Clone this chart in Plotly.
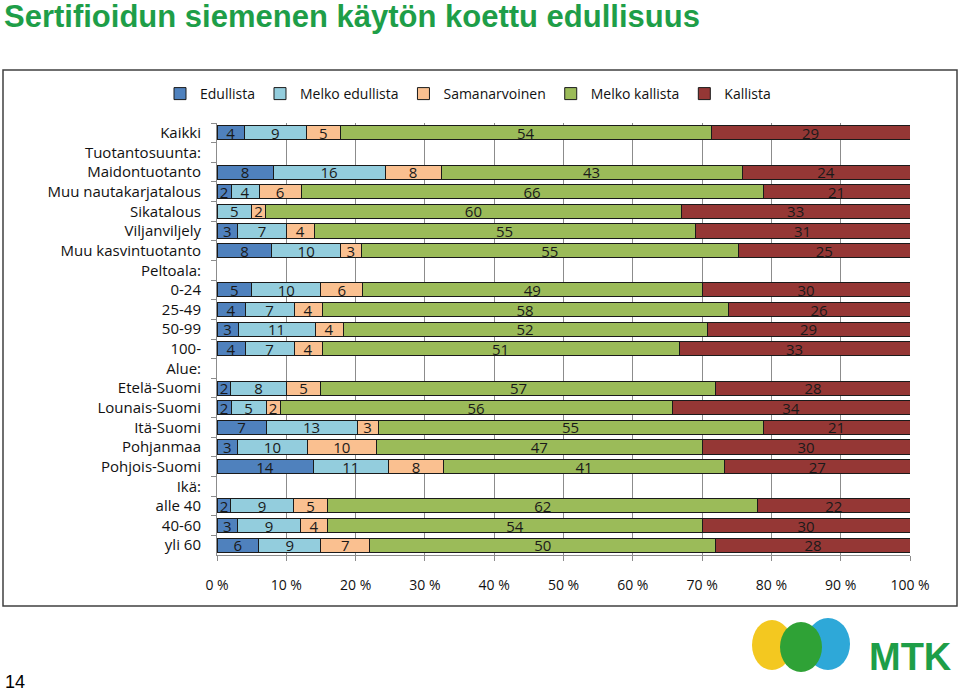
import plotly.graph_objects as go

categories = ["Kaikki", "Tuotantosuunta:", "Maidontuotanto", "Muu nautakarjatalous", "Sikatalous",
              "Viljanviljely", "Muu kasvintuotanto", "Peltoala:", "0-24", "25-49", "50-99", "100-",
              "Alue:", "Etelä-Suomi", "Lounais-Suomi", "Itä-Suomi", "Pohjanmaa", "Pohjois-Suomi",
              "Ikä:", "alle 40", "40-60", "yli 60"]

edullista       = [4, None, 8, 2, None, 3, 8, None, 5, 4, 3, 4, None, 2, 2, 7, 3, 14, None, 2, 3, 6]
melko_edullista = [9, None, 16, 4, 5, 7, 10, None, 10, 7, 11, 7, None, 8, 5, 13, 10, 11, None, 9, 9, 9]
samanarvoinen   = [5, None, 8, 6, 2, 4, 3, None, 6, 4, 4, 4, None, 5, 2, 3, 10, 8, None, 5, 4, 7]
melko_kallista  = [54, None, 43, 66, 60, 55, 55, None, 49, 58, 52, 51, None, 57, 56, 55, 47, 41, None, 62, 54, 50]
kallista        = [29, None, 24, 21, 33, 31, 25, None, 30, 26, 29, 33, None, 28, 34, 21, 30, 27, None, 22, 30, 28]

series_names = ["Edullista", "Melko edullista", "Samanarvoinen", "Melko kallista", "Kallista"]
series_values = [edullista, melko_edullista, samanarvoinen, melko_kallista, kallista]
colors = ["#4F81BD", "#93CDDD", "#FAC090", "#9BBB59", "#953735"]

tick_vals = [0, 10, 20, 30, 40, 50, 60, 70, 80, 90, 100]
tick_text = ["0 %", "10 %", "20 %", "30 %", "40 %", "50 %", "60 %", "70 %", "80 %", "90 %", "100 %"]

FONT = "'Open Sans', Lato, Arial, sans-serif"

W, H = 960, 692
PL, PR, PT, PB = 217, 910, 123, 555   # plot area in px


def px_x(x):
    return (x - PL) / (PR - PL)


def px_y(y):
    return (PB - y) / (PB - PT)


fig = go.Figure()
for name, vals, col in zip(series_names, series_values, colors):
    fig.add_trace(go.Bar(
        y=categories, x=vals, name=name, orientation="h",
        marker=dict(color=col, line=dict(color="#1a1a1a", width=1)),
        text=[("" if v is None else str(v)) for v in vals],
        texttemplate="%{text}", textposition="inside", insidetextanchor="middle",
        textangle=0,
        textfont=dict(color="#1a1a1a", size=15, family=FONT),
        constraintext="none",
    ))

fig.update_layout(
    barmode="stack", barnorm="percent", bargap=0.28,
    width=W, height=H,
    margin=dict(l=PL, r=W - PR, t=PT, b=H - PB, autoexpand=False),
    paper_bgcolor="white", plot_bgcolor="white",
    font=dict(family=FONT, size=14, color="#111111"),
    showlegend=True,
    legend=dict(orientation="h", x=px_x(160), y=px_y(94), xref="paper", yref="paper",
                yanchor="middle", xanchor="left",
                font=dict(size=14, family=FONT), traceorder="normal",
                bgcolor="rgba(0,0,0,0)"),
    uniformtext=dict(mode=False),
)

fig.update_xaxes(range=[0, 100], tickvals=tick_vals, ticktext=tick_text,
                 showgrid=True, gridcolor="#8c8c8c", gridwidth=1,
                 ticks="outside", ticklen=5, tickcolor="#8c8c8c",
                 showline=True, linecolor="#8c8c8c", zeroline=False,
                 tickfont=dict(size=14, family=FONT), ticklabelstandoff=12, fixedrange=True)
fig.update_yaxes(autorange="reversed", showline=True, linecolor="#8c8c8c",
                 ticks="outside", ticklen=5, tickcolor="#8c8c8c", tickson="boundaries",
                 showgrid=False, tickfont=dict(size=15, family=FONT), ticklabelstandoff=12)

# outer frame
fig.add_shape(type="rect", xref="paper", yref="paper",
              x0=px_x(3), x1=px_x(957), y0=px_y(606), y1=px_y(70),
              line=dict(color="#404040", width=1.5), fillcolor="rgba(0,0,0,0)", layer="below")

# title
fig.add_annotation(text="<b>Sertifioidun siemenen käytön koettu edullisuus</b>",
                   xref="paper", yref="paper", x=px_x(2), y=px_y(17),
                   xanchor="left", yanchor="middle", showarrow=False,
                   font=dict(family="Liberation Sans, Arial, sans-serif", size=31, color="#1E9E48"))
# page number
fig.add_annotation(text="14", xref="paper", yref="paper", x=px_x(3), y=px_y(682),
                   xanchor="left", yanchor="middle", showarrow=False,
                   font=dict(family="Liberation Sans Narrow, Arial, sans-serif", size=18, color="#000000"))

# MTK logo (approximation)
fig.add_shape(type="circle", xref="paper", yref="paper",
              x0=px_x(752), x1=px_x(792), y0=px_y(670), y1=px_y(620),
              fillcolor="#F3C820", line=dict(width=0), layer="above")
fig.add_shape(type="circle", xref="paper", yref="paper",
              x0=px_x(806), x1=px_x(850), y0=px_y(670), y1=px_y(618),
              fillcolor="#2EA8D8", line=dict(width=0), layer="above")
fig.add_shape(type="circle", xref="paper", yref="paper",
              x0=px_x(780), x1=px_x(822), y0=px_y(672), y1=px_y(622),
              fillcolor="#2FA236", line=dict(width=0), layer="above")
fig.add_annotation(text="<b>MTK</b>", xref="paper", yref="paper", x=px_x(867), y=px_y(657),
                   xanchor="left", yanchor="middle", showarrow=False,
                   font=dict(family="Liberation Sans, Arial, sans-serif", size=38, color="#1E9E48"))

fig.write_html("out.html", config={"displayModeBar": False},
               post_script="document.body.style.margin='0px';")
